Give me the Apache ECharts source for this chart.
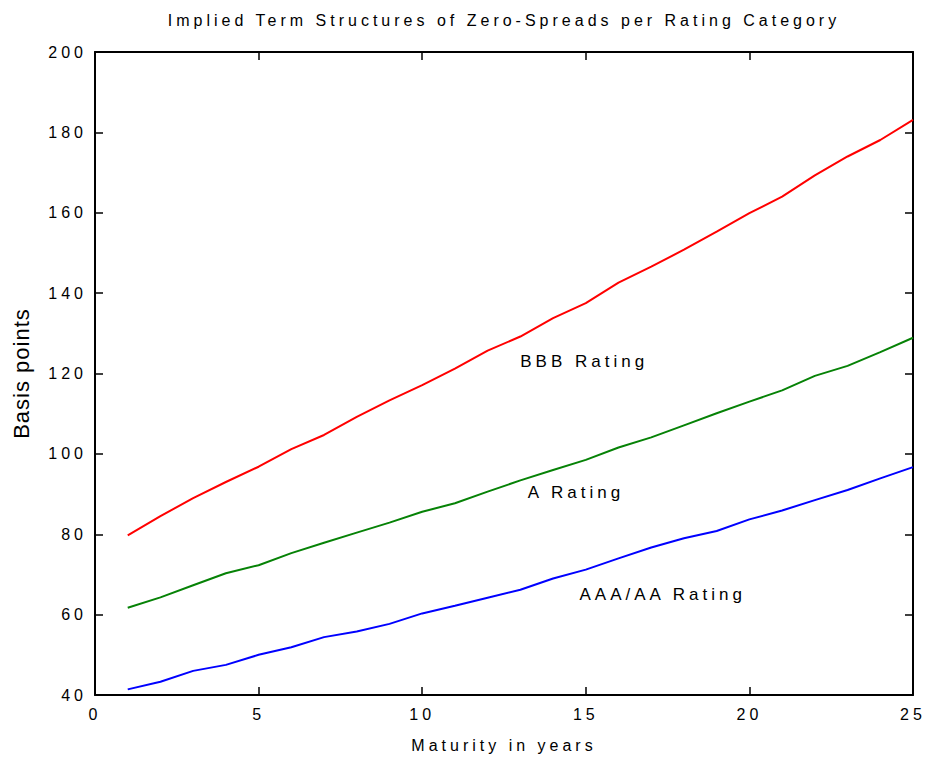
<!DOCTYPE html>
<html>
<head>
<meta charset="utf-8">
<script src="https://cdn.jsdelivr.net/npm/echarts@6/dist/echarts.min.js"></script>
<style>
  html, body { margin: 0; padding: 0; background: #fff; }
  #main { width: 927px; height: 761px; }
  #main text { letter-spacing: 4px; }
  /* the y axis title is only slightly spaced */
  #main text[style*="22px"] { letter-spacing: 1px; }
</style>
</head>
<body>
<div id="main"></div>
<script>
// maturities in years
var years = [1,2,3,4,5,6,7,8,9,10,11,12,13,14,15,16,17,18,19,20,21,22,23,24,25];
// zero-spreads in basis points
var bbbSpread = [79.7,84.5,89.0,93.0,96.8,101.2,104.7,109.2,113.3,117.1,121.2,125.7,129.2,133.8,137.5,142.6,146.6,150.8,155.3,159.9,164.0,169.3,174.0,178.1,183.1];
var aSpread = [61.7,64.3,67.3,70.3,72.3,75.3,77.9,80.4,82.9,85.6,87.7,90.6,93.4,96.0,98.5,101.6,104.1,107.1,110.1,113.0,115.8,119.4,121.9,125.3,128.9];
var aaaSpread = [41.4,43.3,46.0,47.5,50.0,51.9,54.4,55.8,57.7,60.3,62.2,64.2,66.2,69.0,71.2,74.0,76.7,79.0,80.8,83.7,85.9,88.5,91.0,93.9,96.7];
// curve labels and where they sit (data coordinates)
var labelNames = ['BBB Rating', 'A Rating', 'AAA/AA Rating'];
var labelPos = [[14.95, 122.9], [14.7, 90.5], [17.35, 65.0]];

var titleText = 'Implied Term Structures of Zero-Spreads per Rating Category';
var xName = 'Maturity in years';
var yName = 'Basis points';

function pairs(ys) {
  return years.map(function (x, i) { return [x, ys[i]]; });
}

var font = "'Liberation Sans', Arial, sans-serif";
var axisLine = { show: true, onZero: false, lineStyle: { color: '#000', width: 2 } };
var tick = { show: true, inside: true, length: 8, lineStyle: { color: '#000', width: 1.5 } };

var chart = echarts.init(document.getElementById('main'), null, { renderer: 'svg' });
chart.setOption({
  animation: false,
  backgroundColor: '#fff',
  title: {
    text: titleText,
    left: 499,
    textAlign: 'center',
    top: 7,
    textStyle: { fontFamily: font, fontSize: 16, fontWeight: 'normal', color: '#000' }
  },
  grid: { left: 95, right: 14, top: 52, bottom: 66 },
  xAxis: [{
    type: 'value', min: 0, max: 25, interval: 5, position: 'bottom',
    name: xName, nameLocation: 'middle', nameGap: 42,
    nameTextStyle: { fontFamily: font, fontSize: 16, color: '#000' },
    axisLine: axisLine, axisTick: tick,
    axisLabel: { fontFamily: font, fontSize: 16, color: '#000', margin: 11 },
    splitLine: { show: false }
  }, {
    type: 'value', min: 0, max: 25, interval: 5, position: 'top',
    axisLine: axisLine, axisTick: tick, axisLabel: { show: false }, splitLine: { show: false }
  }],
  yAxis: [{
    type: 'value', min: 40, max: 200, interval: 20, position: 'left',
    name: yName, nameLocation: 'middle', nameGap: 63,
    nameTextStyle: { fontFamily: font, fontSize: 22, color: '#000' },
    axisLine: axisLine, axisTick: tick,
    axisLabel: { fontFamily: font, fontSize: 16, color: '#000', margin: 8 },
    splitLine: { show: false }
  }, {
    type: 'value', min: 40, max: 200, interval: 20, position: 'right',
    axisLine: axisLine, axisTick: tick, axisLabel: { show: false }, splitLine: { show: false }
  }],
  series: [
    { type: 'line', data: pairs(bbbSpread), symbol: 'none', lineStyle: { color: '#ff0000', width: 2 } },
    { type: 'line', data: pairs(aSpread), symbol: 'none', lineStyle: { color: '#068206', width: 2 } },
    { type: 'line', data: pairs(aaaSpread), symbol: 'none', lineStyle: { color: '#0000ff', width: 2 } },
    {
      type: 'scatter', symbolSize: 0, silent: true,
      itemStyle: { opacity: 1 },
      data: labelPos.map(function (p, i) { return { name: labelNames[i], value: p }; }),
      label: {
        show: true, position: 'inside', formatter: '{b}',
        fontFamily: font, fontSize: 17, color: '#000'
      }
    }
  ]
});
</script>
</body>
</html>
